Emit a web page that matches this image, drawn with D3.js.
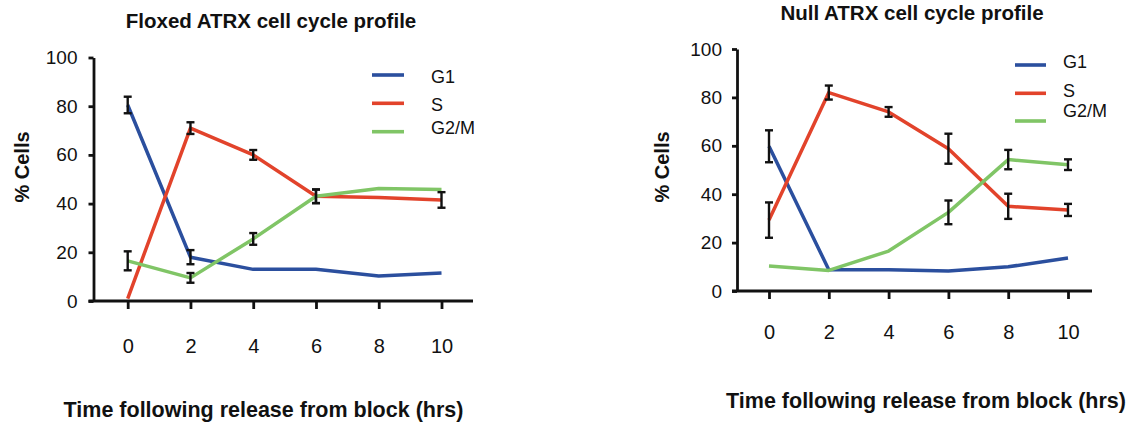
<!DOCTYPE html>
<html>
<head>
<meta charset="utf-8">
<script src="https://cdn.jsdelivr.net/npm/d3@7.9.0/dist/d3.min.js"></script>
<style>
  body { margin: 0; background: #fff; }
  svg { display: block; }
  text { font-family: Arial, "Liberation Sans", Helvetica, sans-serif; fill: #111; }
</style>
</head>
<body>
<svg id="chart" width="1134" height="423"></svg>
<script>
// hours after release
const hours = [0, 2, 4, 6, 8, 10];
const yTicks = [0, 20, 40, 60, 80, 100];
const phases = ['G1', 'S', 'G2/M'];

// Floxed ATRX (% cells)
const floxG1 = [80.5, 18, 13, 13, 10.3, 11.5];
const floxS = [1, 71, 60, 43, 42.5, 41.5];
const floxG2M = [16.5, 9.5, 25.5, 43, 46.2, 45.8];
const floxG1Err = [3.4, 2.9, null, null, null, null];
const floxSErr = [null, 2.4, 2, 2.8, null, 3.2];
const floxG2MErr = [3.9, 2, 2.4, 2.8, null, null];

// Null ATRX (% cells)
const nullG1 = [59.8, 8.8, 8.8, 8.3, 10, 13.6];
const nullS = [29.3, 82, 74, 58.8, 35, 33.5];
const nullG2M = [10.3, 8.5, 16.5, 32.5, 54.3, 52.2];
const nullG1Err = [6.6, null, null, null, null, null];
const nullSErr = [7.3, 2.9, 2, 6.2, 5.2, 2.5];
const nullG2MErr = [null, null, null, 4.9, 4, 2.2];

const colors = ['#2b4f9e', '#e2432b', '#80c566'];

const svg = d3.select('#chart');

function drawPanel(p) {
  const x = d3.scaleLinear().domain([0, 10]).range([p.x0, p.x10]);
  const y = d3.scaleLinear().domain([0, 100]).range([p.y0, p.y100]);
  const g = svg.append('g');

  // y axis
  const yAxis = g.append('g')
    .attr('transform', `translate(${p.axisX},0)`)
    .call(d3.axisLeft(y).tickValues(yTicks).tickSize(5).tickSizeOuter(0).tickPadding(p.yPad));
  yAxis.selectAll('text').style('font-size', '19px');

  // x axis
  const xAxis = g.append('g')
    .attr('transform', `translate(0,${p.y0})`)
    .call(d3.axisBottom(x).tickValues(hours).tickSize(8).tickPadding(p.xPad));
  xAxis.select('.domain').remove();
  xAxis.selectAll('text').style('font-size', '20px');
  g.append('line')
    .attr('x1', p.axisX - 5).attr('x2', p.xEnd)
    .attr('y1', p.y0).attr('y2', p.y0)
    .attr('stroke', '#111').attr('stroke-width', 2.8);

  g.selectAll('.domain, .tick line').attr('stroke', '#111').attr('stroke-width', 2.8);

  const line = d3.line().x((d, i) => x(hours[i])).y(d => y(d));
  p.series.forEach((s, k) => {
    g.append('path')
      .datum(s)
      .attr('d', line)
      .attr('fill', 'none')
      .attr('stroke', colors[k])
      .attr('stroke-width', 3.5)
      .attr('stroke-linejoin', 'round');
  });

  // error bars
  p.errors.forEach((errs, k) => {
    errs.forEach((e, i) => {
      if (e == null) return;
      const cx = x(hours[i]);
      const v = p.series[k][i];
      const eb = g.append('g').attr('stroke', '#111').attr('stroke-width', 2.4);
      eb.append('line').attr('x1', cx).attr('x2', cx).attr('y1', y(v - e)).attr('y2', y(v + e));
      [v - e, v + e].forEach(t => {
        eb.append('line').attr('x1', cx - 4).attr('x2', cx + 4).attr('y1', y(t)).attr('y2', y(t));
      });
    });
  });

  // legend
  phases.forEach((name, k) => {
    g.append('line')
      .attr('x1', p.legX).attr('x2', p.legX + p.legW)
      .attr('y1', p.legLineY[k]).attr('y2', p.legLineY[k])
      .attr('stroke', colors[k]).attr('stroke-width', 3.6);
    g.append('text')
      .attr('x', p.legTextX).attr('y', p.legTextY[k])
      .style('font-size', '18px')
      .text(name);
  });

  g.append('text')
    .attr('x', p.titleX).attr('y', p.titleY)
    .attr('text-anchor', 'middle')
    .style('font-size', '20.5px').style('font-weight', 'bold')
    .text(p.title);

  g.append('text')
    .attr('transform', `translate(${p.yLabX},${p.yLabY}) rotate(-90)`)
    .attr('text-anchor', 'middle')
    .style('font-size', '20px').style('font-weight', 'bold')
    .text('% Cells');

  g.append('text')
    .attr('x', p.xLabX).attr('y', p.xLabY)
    .attr('text-anchor', 'middle')
    .style('font-size', '21.5px').style('font-weight', 'bold')
    .text('Time following release from block (hrs)');
}

drawPanel({
  title: 'Floxed ATRX cell cycle profile',
  series: [floxG1, floxS, floxG2M],
  errors: [floxG1Err, floxSErr, floxG2MErr],
  x0: 127.7, x10: 441.5, xEnd: 473, axisX: 93.5,
  y0: 301, y100: 57.5, yPad: 11, xPad: 30,
  legX: 372, legW: 32, legLineY: [75, 103.3, 131.7],
  legTextX: 431, legTextY: [82.7, 111.4, 134],
  titleX: 271, titleY: 27.5,
  yLabX: 28.5, yLabY: 167,
  xLabX: 263.5, xLabY: 416.5
});

drawPanel({
  title: 'Null ATRX cell cycle profile',
  series: [nullG1, nullS, nullG2M],
  errors: [nullG1Err, nullSErr, nullG2MErr],
  x0: 769, x10: 1068, xEnd: 1092, axisX: 737,
  y0: 291, y100: 49, yPad: 10, xPad: 26,
  legX: 1015, legW: 31, legLineY: [65, 93.3, 121],
  legTextX: 1063, legTextY: [68.3, 96.7, 116.7],
  titleX: 912, titleY: 20,
  yLabX: 669, yLabY: 167,
  xLabX: 926, xLabY: 408
});
</script>
</body>
</html>
